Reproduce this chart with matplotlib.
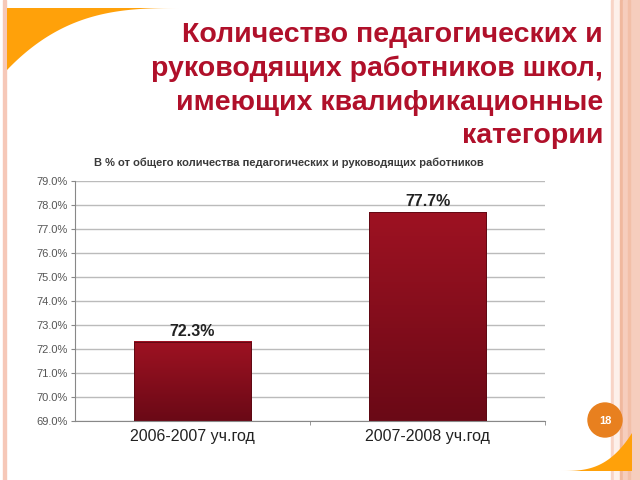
import numpy as np
import matplotlib.pyplot as plt
from matplotlib.patches import Polygon, Circle, Rectangle
from matplotlib.colors import LinearSegmentedColormap
from matplotlib.ticker import FuncFormatter

plt.rcParams['font.family'] = ['Liberation Sans', 'DejaVu Sans']

title = 'Количество педагогических и\nруководящих работников школ,\nимеющих квалификационные\nкатегории'
subtitle = 'В % от общего количества педагогических и руководящих работников'
categories = ['2006-2007 уч.год', '2007-2008 уч.год']
values = [72.3, 77.7]
page_number = '18'

fig = plt.figure(figsize=(6.4, 4.8), dpi=100)

# slide decorations, drawn in pixel coords
deco = fig.add_axes([0, 0, 1, 1])
deco.set_xlim(0, 640)
deco.set_ylim(480, 0)
deco.axis('off')
deco.add_patch(Rectangle((3, 0), 3, 480, color='#f6c8b8'))
deco.add_patch(Rectangle((611, 0), 3, 480, color='#f8d4c6'))
deco.add_patch(Rectangle((614, 0), 6, 480, color='#fdf0ea'))
deco.add_patch(Rectangle((620, 0), 3, 480, color='#f0b89e'))
deco.add_patch(Rectangle((623, 0), 17, 480, color='#f6cdbd'))
deco.add_patch(Rectangle((628, 0), 2, 480, color='#f2bfa8'))

t = np.linspace(0, 1, 80)
cx = 185 - 178 * t
cy = 8 + 62 * t ** 3
deco.add_patch(Polygon([(7, 8)] + list(zip(cx, cy)), closed=True,
                       color='#ffa10a', lw=0))
bx = 560 + 72 * t
by = 471 - 38 * t ** 3
deco.add_patch(Polygon(list(zip(bx, by)) + [(632, 471)], closed=True,
                       color='#ffa10a', lw=0))
deco.add_patch(Circle((605, 420), 17, color='#e8801f'))
deco.text(605, 421, page_number, color='white', fontsize=8, fontweight='bold',
          ha='center', va='center')

fig.text(603 / 640, 1 - 22 / 480, title, color='#b0102a', fontsize=20.5,
         fontweight='bold', ha='right', va='top', linespacing=1.38)
fig.text(289 / 640, 1 - 163 / 480, subtitle, color='#3a3a3a', fontsize=8,
         fontweight='bold', ha='center', va='center')

ax = fig.add_axes([75 / 640, 1 - 421 / 480, 470 / 640, 240 / 480])
x = np.arange(len(categories))
bars = ax.bar(x, values, width=0.5, color='none', zorder=2)
ax.set_xlim(-0.5, len(categories) - 0.5)
ax.set_ylim(69, 79)

grad = np.linspace(0, 1, 256).reshape(-1, 1)
cmap = LinearSegmentedColormap.from_list('bar', ['#6a0916', '#9e1222'])
for b in bars:
    ax.imshow(grad, cmap=cmap, aspect='auto', origin='lower', zorder=2,
              extent=[b.get_x(), b.get_x() + b.get_width(), 69, b.get_height()])
    ax.add_patch(Rectangle((b.get_x(), 69), b.get_width(), b.get_height() - 69,
                           fill=False, ec='#5a0812', lw=0.6, zorder=3))
for xi, v in zip(x, values):
    ax.text(xi, v + 0.12, f'{v:.1f}%', ha='center', va='bottom', fontsize=11.5,
            fontweight='bold', color='#222222')

ax.set_yticks(np.arange(69, 79.1, 1))
ax.yaxis.set_major_formatter(FuncFormatter(lambda v, p: f'{v:.1f}%'))
ax.tick_params(axis='y', labelsize=8, labelcolor='#555555', color='#888888',
               length=3, pad=2)
ax.set_xticks(x)
ax.set_xticklabels(categories)
ax.set_xticks([0.5, 1.5], minor=True)
ax.tick_params(axis='x', which='major', length=0, labelsize=11.5,
               labelcolor='#222222', pad=6)
ax.tick_params(axis='x', which='minor', length=3, color='#888888')
ax.yaxis.grid(True, color='#bbbbbb', lw=1, zorder=0)
ax.set_axisbelow(True)
for s in ['top', 'right']:
    ax.spines[s].set_visible(False)
ax.spines['left'].set_color('#888888')
ax.spines['bottom'].set_color('#888888')

fig.savefig('out.png', dpi=100)
